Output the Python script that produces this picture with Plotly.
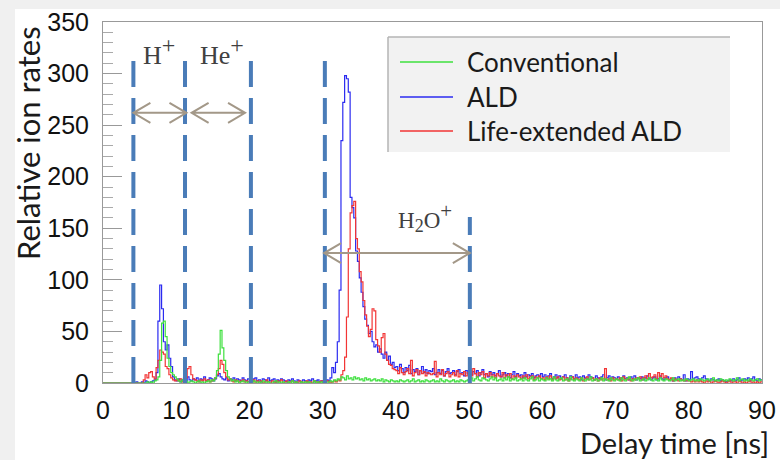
import numpy as np
import plotly.graph_objects as go

# ---------------- data (histograms, 0.25 ns bins from 0 to 90 ns) ----------------
bin_width = 0.25
x_min, x_max = 0, 90
y_min, y_max = 0, 350
x_ticks = [0, 10, 20, 30, 40, 50, 60, 70, 80, 90]
y_ticks = [0, 50, 100, 150, 200, 250, 300, 350]

series_names = ["Conventional", "ALD", "Life-extended ALD"]

ald = (
    [0,0,0,0,0,0,0,0,0,0, 0,0,0,0,0,0,0,0,1,0, 0,1,0,2,1,0,1,2,3,10, 60,95,72,40,32,37,24,16,6,3]
    + [2,4,1,3,5,2,6,3,2,4, 3,5,2,4,3,6,2,3,5,4, 2,4,7,9,6,4,3,5,2,4, 3,5,2,4,3,2,5,3,2,4]
    + [3,2,4,5,2,3,1,4,3,2, 5,2,3,4,1,3,2,4,3,2, 1,3,2,4,2,1,3,2,1,3, 2,1,3,2,4,1,2,3,1,2]
    + [2,1,3,2,5,15,10,20,40,90, 235,272,298,295,282,180,170,160,128,118,
       102,88,74,62,56,48,50,40,35,37, 30,33,28,24,30,22,26,18,20,15]
    + [16,12,18,14,10,15,12,17,9,13, 11,14,8,12,16,10,13,9,12,11, 14,8,10,13,9,12,7,11,14,9, 10,12,8,11,13,9,10,7,12,9]
    + [14,8,11,9,12,7,10,13,8,9, 6,11,8,10,7,9,12,6,8,10, 7,9,5,8,11,6,9,7,8,5, 10,6,8,7,9,5,7,8,6,9]
    + [6,8,5,7,9,4,6,8,5,7, 4,6,8,5,3,7,6,4,8,5, 6,3,7,5,4,8,6,5,3,7, 5,4,6,8,3,5,7,4,6,5]
    + [4,6,3,5,7,4,5,3,6,4, 7,3,5,4,6,3,5,7,4,3, 5,6,3,4,7,4,3,5,6,3, 4,2,5,3,6,4,3,8,2,4]
    + [3,11,4,5,6,4,3,5,7,4, 3,2,4,3,2,3,4,2,3,2, 1,2,3,2,4,2,3,5,2,3, 4,3,5,2,4,6,3,2,4,3]
)

life_ext = (
    [0,0,0,0,0,0,0,0,0,0, 0,0,0,0,0,0,0,0,0,0, 0,0,3,8,5,10,11,6,4,15, 22,32,30,28,16,14,8,5,3,2]
    + [3,2,4,1,2,5,14,16,8,4, 3,2,1,3,2,4,2,3,1,2, 3,5,8,14,22,18,10,6,3,4, 2,1,3,2,1,2,3,1,2,1]
    + [2,1,3,0,2,1,2,0,1,3, 1,0,2,1,0,2,1,3,0,1, 2,0,1,2,0,1,0,2,1,0, 1,2,0,1,0,2,1,0,1,2]
    + [1,0,2,1,0,1,2,1,3,2, 8,12,25,64,130,165,172,176,140,130,
       108,98,80,66,55,45,52,72,70,42, 36,30,44,48,28,22,18,17,14,13]
    + [12,9,15,10,8,11,14,9,22,7, 10,13,8,12,9,11,7,10,9,8, 9,21,6,10,8,13,7,9,11,6, 8,10,7,12,6,9,8,11,7,10]
    + [12,7,14,9,6,10,8,11,5,9, 7,10,6,8,5,9,7,6,10,5, 8,6,9,4,7,5,8,6,4,7, 5,8,4,6,7,3,6,5,7,4]
    + [5,3,6,4,7,3,5,4,6,3, 4,6,3,5,2,4,6,3,5,4, 3,5,2,4,6,3,4,5,3,4, 2,5,3,4,14,3,4,2,5,3]
    + [4,3,5,2,6,4,3,5,2,4, 3,5,4,6,3,5,7,4,9,5, 6,8,4,10,6,9,5,7,4,3, 5,2,4,3,2,4,3,2,3,2]
    + [2,1,2,1,3,1,2,1,0,2, 1,2,0,1,2,1,0,1,2,1, 0,1,2,0,1,1,0,2,1,0, 1,0,1,2,0,1,0,1,0,1]
)

conventional = (
    [0,0,0,0,0,0,0,0,0,0, 0,0,0,0,0,0,0,0,0,0, 0,0,0,0,1,0,1,0,2,3, 6,22,58,60,45,24,16,10,8,6]
    + [4,2,1,3,1,2,0,1,2,1, 0,1,2,0,1,0,1,2,1,3, 2,5,12,28,51,34,22,12,6,4, 2,3,1,2,0,1,2,1,0,1]
    + [1,0,2,1,0,1,0,2,1,0, 1,0,0,1,2,0,1,0,1,0, 0,1,0,2,0,1,0,0,1,0, 1,0,1,0,0,2,0,1,0,1]
    + [0,1,0,1,2,1,3,2,4,3, 6,5,3,7,4,5,3,6,4,5, 3,4,2,5,3,4,2,3,4,2, 3,2,4,1,3,2,1,3,2,1]
    + [2,1,3,2,1,2,3,1,2,4, 1,2,3,1,2,1,3,2,1,2, 3,1,2,1,4,2,1,3,2,1, 2,3,1,2,1,3,2,1,2,3]
    + [3,5,2,4,6,3,2,5,4,3, 2,4,6,3,5,2,3,4,2,5, 3,6,2,4,3,5,2,3,4,2, 5,3,2,4,6,2,3,5,2,4]
    + [3,2,5,3,4,2,6,3,2,4, 5,2,3,4,2,6,3,2,4,3, 2,5,3,2,4,3,6,2,3,4, 2,3,5,2,4,3,2,5,3,2]
    + [4,3,2,5,3,2,4,6,3,2, 4,3,5,2,3,4,2,3,5,3, 2,4,3,2,5,3,2,4,3,2, 3,5,2,3,4,2,3,2,4,3]
    + [2,3,4,2,3,2,4,3,2,3, 4,2,3,5,2,3,2,4,3,2, 3,2,4,3,2,3,5,2,3,4, 2,3,2,4,3,2,3,4,2,3]
)

# region markers (ns) and labels
gate_x = [4.15, 11.2, 20.2, 30.3, 50.1]
gate_top = [318, 318, 318, 318, 161]
arrows = [(4.15, 11.4, 262), (12.1, 19.4, 262), (30.2, 50.1, 126)]
region_labels = [
    "H<sup><span style='font-size:24px'>+</span></sup>",
    "He<sup><span style='font-size:24px'>+</span></sup>",
    "H<sub><span style='font-size:18px'>2</span></sub>O<sup><span style='font-size:21px'>+</span></sup>",
]
region_label_sizes = [26, 26, 23]
region_label_pos = [(7.7, 322), (16.3, 322), (44.0, 160)]

# ---------------- figure ----------------
colors = {"Conventional": "#3ee03e", "ALD": "#2b2bf0", "Life-extended ALD": "#f23535"}
data_by_name = {"Conventional": conventional, "ALD": ald, "Life-extended ALD": life_ext}

fig = go.Figure()
for name in ["ALD", "Life-extended ALD", "Conventional"]:
    vals = np.asarray(data_by_name[name], dtype=float)
    edges = x_min + bin_width * np.arange(len(vals) + 1)
    yv = np.append(vals, vals[-1])
    fig.add_trace(go.Scatter(x=edges, y=yv, mode="lines", line_shape="hv",
                             line=dict(color=colors[name], width=1.2),
                             name=name, showlegend=False, hoverinfo="skip"))

L, R, T, B = 103, 18, 22, 77
PW, PH = 780 - L - R, 460 - T - B


def px_x(p):
    return (p - L) / PW


def px_y(p):
    return (460 - B - p) / PH


shapes = []
# page background: light gray strips at left and top, white panel
shapes.append(dict(type="rect", xref="paper", yref="paper",
                   x0=px_x(15), x1=px_x(800), y0=px_y(480), y1=px_y(9),
                   fillcolor="white", line=dict(width=0), layer="below"))

# dashed gate lines
for gx, gt in zip(gate_x, gate_top):
    shapes.append(dict(type="line", xref="x", yref="y", x0=gx, x1=gx, y0=0, y1=gt,
                       line=dict(color="#4a7cb8", width=4, dash="26px,11px"), layer="above"))

# double arrows (open V heads)
px_per_x = PW / (x_max - x_min)
px_per_y = PH / (y_max - y_min)
hx = 17 / px_per_x
hy = 10 / px_per_y
for a0, a1, ay in arrows:
    path = (f"M{a0 + hx},{ay + hy} L{a0},{ay} L{a0 + hx},{ay - hy} "
            f"M{a0},{ay} L{a1},{ay} "
            f"M{a1 - hx},{ay + hy} L{a1},{ay} L{a1 - hx},{ay - hy}")
    shapes.append(dict(type="path", xref="x", yref="y", path=path,
                       line=dict(color="#a39888", width=2), layer="above"))

# legend box
lx0, lx1 = px_x(388), px_x(730)
ly0, ly1 = px_y(152), px_y(37)
shapes.append(dict(type="rect", xref="paper", yref="paper", x0=lx0, x1=lx1, y0=ly0, y1=ly1,
                   fillcolor="#f2f2f2", line=dict(width=0), layer="above"))
shapes.append(dict(type="line", xref="paper", yref="paper", x0=lx0, x1=lx1, y0=ly1, y1=ly1,
                   line=dict(color="#b4b4b4", width=1.5), layer="above"))
shapes.append(dict(type="line", xref="paper", yref="paper", x0=lx0, x1=lx0, y0=ly0, y1=ly1,
                   line=dict(color="#b4b4b4", width=1.5), layer="above"))

annotations = []
legend_y_px = [62, 97, 131]
for name, ypx in zip(series_names, legend_y_px):
    yp = px_y(ypx)
    shapes.append(dict(type="line", xref="paper", yref="paper",
                       x0=px_x(400), x1=px_x(453), y0=yp, y1=yp,
                       line=dict(color=colors[name], width=1.6), layer="above"))
    annotations.append(dict(xref="paper", yref="paper", x=px_x(465), y=yp,
                            xanchor="left", yanchor="middle", text=name, showarrow=False,
                            font=dict(family="Lato", size=26, color="#1a1a1a")))

for lab, (lxv, lyv), fs in zip(region_labels, region_label_pos, region_label_sizes):
    annotations.append(dict(xref="x", yref="y", x=lxv, y=lyv, text=lab, showarrow=False,
                            xanchor="center", yanchor="middle",
                            font=dict(family="Liberation Serif", size=fs, color="#404040")))

# axis titles
annotations.append(dict(xref="paper", yref="paper", x=px_x(28), y=px_y(24),
                        xanchor="center", yanchor="top", textangle=-90,
                        text="Relative ion rates", showarrow=False,
                        font=dict(family="Lato", size=31, color="#1a1a1a")))
annotations.append(dict(xref="paper", yref="paper", x=px_x(771), y=px_y(442),
                        xanchor="right", yanchor="middle",
                        text="Delay time [ns]", showarrow=False,
                        font=dict(family="Lato", size=29, color="#1a1a1a")))

fig.update_layout(
    width=780, height=460,
    margin=dict(l=L, r=R, t=T, b=B, autoexpand=False),
    paper_bgcolor="#f0f0f0", plot_bgcolor="white",
    showlegend=False,
    shapes=shapes, annotations=annotations,
    xaxis=dict(range=[x_min, x_max], tickvals=x_ticks, ticks="", showgrid=False, zeroline=False,
               showline=True, linecolor="#999999", linewidth=1, mirror=True, automargin=False,
               tickfont=dict(family="Liberation Sans", size=25, color="#111111"),
               ticklabelstandoff=5),
    yaxis=dict(range=[y_min, y_max], tickvals=y_ticks, ticks="inside", ticklen=19,
               tickcolor="#999999", tickwidth=1, showgrid=False, zeroline=False,
               showline=True, linecolor="#999999", linewidth=1, mirror=True, automargin=False,
               minor=dict(ticks="inside", ticklen=10, dtick=10, tickcolor="#aaaaaa", tickwidth=1),
               tickfont=dict(family="Liberation Sans", size=25, color="#111111"),
               ticklabelstandoff=8),
)

fig.write_html("out.html")
